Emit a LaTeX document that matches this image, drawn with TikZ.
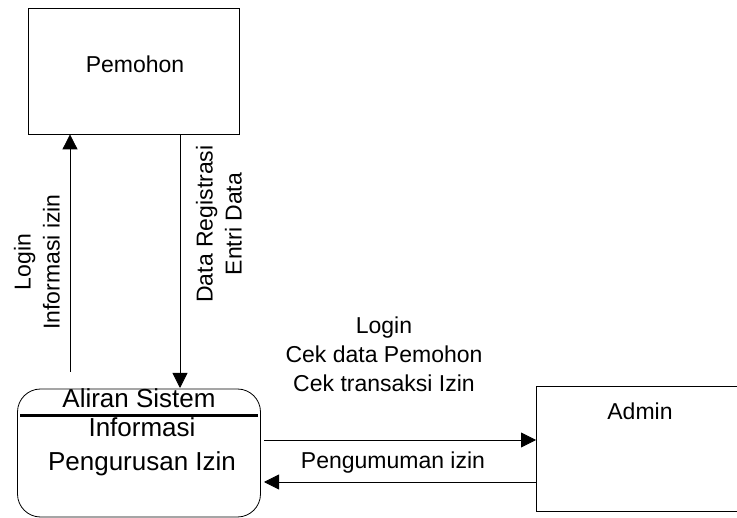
\documentclass[tikz,border=0pt]{standalone}
\usepackage{fontspec}
\setmainfont{Liberation Sans}
\usetikzlibrary{arrows.meta}
\begin{document}
\begin{tikzpicture}[x=1pt,y=-1pt,
  box/.style={draw,line width=0.8pt,rectangle,inner sep=0pt},
  lbl/.style={font=\fontsize{23}{29}\selectfont,align=center,inner sep=0pt},
  ptext/.style={font=\fontsize{26}{34}\selectfont,inner sep=0pt},
  flow/.style={line width=0.8pt,-{Triangle[length=15pt,width=15pt]}}]
  \useasboundingbox (0,0) rectangle (737,518);
  % external entities
  \node[box,minimum width=211pt,minimum height=126pt] (pem) at (133.5,71) {};
  \node[lbl] (pemtxt) at (135,64) {Pemohon};
  \node[box,minimum width=215pt,minimum height=125pt,anchor=north west] (adm) at (536,386) {};
  \node[lbl] (admtxt) at (640,411) {Admin};
  % process
  \node[draw,line width=0.8pt,rounded corners=23pt,minimum width=243pt,minimum height=128pt,inner sep=0pt] (proc) at (139,453) {};
  \draw[line width=3pt] (20,416) coordinate (divl) -- (258,416) coordinate (divr);
  \node[ptext] (ptitle) at (139,398) {Aliran Sistem};
  \node[ptext,align=center] (pbody) at (142,447) {Informasi\\Pengurusan Izin};
  % flows between Pemohon and the process
  \coordinate (up0) at (70,372);
  \draw[flow] (up0) -- (pem.south -| up0);
  \coordinate (dn1) at (180,388);
  \draw[flow] (pem.south -| dn1) -- (dn1);
  \node[lbl,rotate=90] (lup) at (37,262) {Login\\Informasi izin};
  \node[lbl,rotate=90] (ldn) at (219,224) {Data Registrasi\\Entri Data};
  % flows between the process and Admin
  \coordinate (r0) at (264,440);
  \draw[flow] (r0) -- (adm.west |- r0);
  \coordinate (l1) at (264,482);
  \draw[flow] (adm.west |- l1) -- (l1);
  \node[lbl] (lright) at (384,354) {Login\\Cek data Pemohon\\Cek transaksi Izin};
  \node[lbl] (lleft) at (393,463) {Pengumuman izin};
\end{tikzpicture}
\end{document}
